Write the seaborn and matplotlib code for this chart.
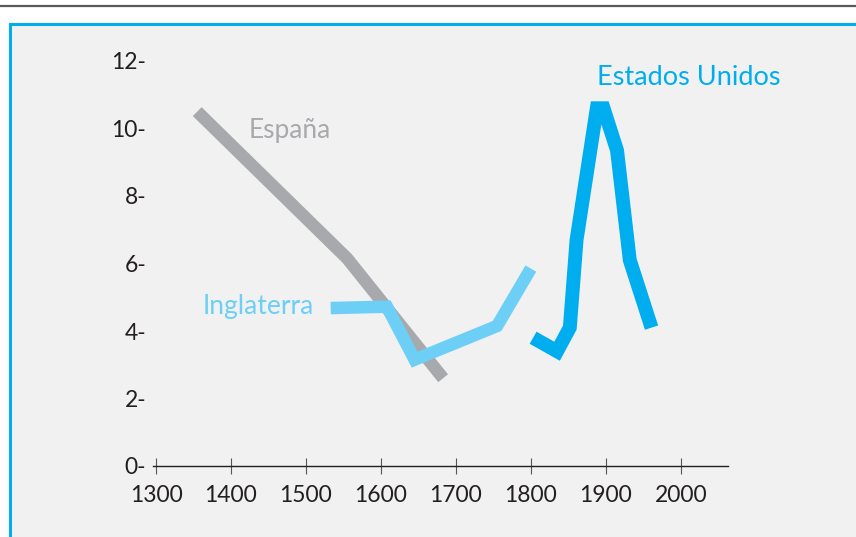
import matplotlib.pyplot as plt
import matplotlib.patches as mpatches
import matplotlib.lines as mlines
import pandas as pd
import seaborn as sns

# values
espana_years = [1355, 1555, 1683]
espana_vals = [10.5, 6.15, 2.6]

inglaterra_years = [1533, 1608, 1645, 1755, 1800]
inglaterra_vals = [4.68, 4.72, 3.15, 4.15, 5.85]

eeuu_years = [1803, 1835, 1852, 1861, 1888, 1897, 1915, 1932, 1961]
eeuu_vals = [3.8, 3.4, 4.1, 6.7, 10.6, 10.6, 9.35, 6.1, 4.1]

x_ticks = [1300, 1400, 1500, 1600, 1700, 1800, 1900, 2000]
y_ticks = [0, 2, 4, 6, 8, 10, 12]

sns.set_style("white")
plt.rcParams["font.family"] = ["Lato", "DejaVu Sans"]

W, H = 856, 537
fig = plt.figure(figsize=(W / 100, H / 100), dpi=100)
fig.patch.set_facecolor("white")

# panel background with cyan border
fig.patches.append(mpatches.Rectangle((10 / W, -0.1), 1.2, (537 - 24) / H + 0.1,
                                      transform=fig.transFigure, facecolor="#f1f1f1",
                                      edgecolor="#00aeef", linewidth=2.2, zorder=-10))
fig.lines.append(mlines.Line2D([0, 1], [(537 - 6) / H] * 2, transform=fig.transFigure,
                               color="#58595b", linewidth=1.6, zorder=-10))

y_top = 13
ax = fig.add_axes([153 / W, (537 - 466) / H, 575 / W, y_top * 33.75 / H])
ax.set_facecolor("none")
ax.set_zorder(5)

esp = pd.DataFrame({"year": espana_years, "val": espana_vals})
ing = pd.DataFrame({"year": inglaterra_years, "val": inglaterra_vals})
usa = pd.DataFrame({"year": eeuu_years, "val": eeuu_vals})

sns.lineplot(data=esp, x="year", y="val", sort=False, ax=ax, color="#a7a9ac",
             linewidth=9, solid_joinstyle="round", solid_capstyle="butt")
sns.lineplot(data=ing, x="year", y="val", sort=False, ax=ax, color="#6dcff6",
             linewidth=9, solid_joinstyle="miter", solid_capstyle="butt")
sns.lineplot(data=usa, x="year", y="val", sort=False, ax=ax, color="#00aeef",
             linewidth=10, solid_joinstyle="miter", solid_capstyle="butt")

ax.text(1479, 9.93, "España", color="#a7a9ac", fontsize=19, ha="center", va="center")
ax.text(1437, 4.73, "Inglaterra", color="#6dcff6", fontsize=19, ha="center", va="center")
ax.text(2011, 11.5, "Estados Unidos", color="#00aeef", fontsize=19.5, ha="center", va="center")

ax.set_xlim(1296, 2063)
ax.set_ylim(0, y_top)
ax.set_xticks(x_ticks)
ax.set_xticklabels([str(t) for t in x_ticks])
ax.set_yticks(y_ticks)
ax.set_yticklabels([f"{t}-" for t in y_ticks])
ax.set_xlabel("")
ax.set_ylabel("")

for s in ["top", "right", "left"]:
    ax.spines[s].set_visible(False)
ax.spines["bottom"].set_color("#231f20")
ax.spines["bottom"].set_linewidth(1.0)

ax.tick_params(axis="x", bottom=True, direction="inout", length=12, width=0.8,
               color="#555555", labelsize=16.5, labelcolor="#231f20", pad=8)
ax.tick_params(axis="y", left=False, length=0, labelsize=16.5, labelcolor="#231f20", pad=5)

fig.savefig("out.png", dpi=100)
